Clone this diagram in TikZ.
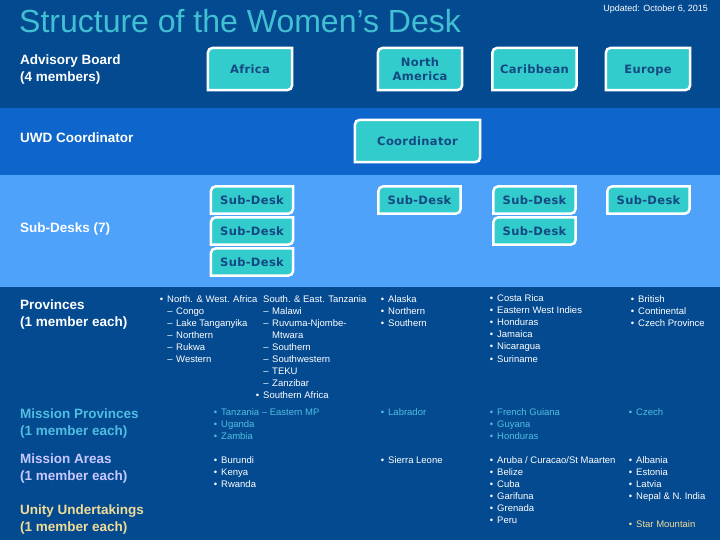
\documentclass[tikz,border=0pt]{standalone}
\usepackage{fontspec}
\setmainfont{Liberation Sans}
\newfontfamily\boxfont[LetterSpace=3]{DejaVu Sans}
\usetikzlibrary{positioning}

\definecolor{darkband}{RGB}{4,74,145}
\definecolor{midband}{RGB}{14,102,204}
\definecolor{lightband}{RGB}{78,162,250}
\definecolor{deskfill}{RGB}{51,204,204}
\definecolor{deskink}{RGB}{20,72,130}
\definecolor{titleink}{RGB}{64,192,210}
\definecolor{provink}{RGB}{80,190,225}
\definecolor{areaink}{RGB}{200,200,255}
\definecolor{unityink}{RGB}{240,220,150}

\pgfdeclarelayer{back}
\pgfsetlayers{back,main}

\newcommand{\bul}{\llap{\textbullet\hspace{4pt}}}
\newcommand{\dsh}{\llap{–\hspace{3.5pt}}}

\begin{document}
\begin{tikzpicture}[
  x=1pt, y=-1pt,
  desk/.style={minimum width=84pt, minimum height=42pt, inner sep=0pt,
               font=\boxfont\bfseries\fontsize{11.5}{14}\selectfont, text=deskink, align=center},
  subdesk/.style={desk, minimum width=82pt, minimum height=27pt},
  rowlabel/.style={anchor=west, inner sep=0pt, align=left, text=white,
                   font=\bfseries\fontsize{13.5}{17}\selectfont},
  itm/.style={anchor=base west, inner sep=0pt, text=white,
              font=\fontsize{9.5}{12}\selectfont},
  deskline/.style={fill=deskfill, draw=white, line width=2.5pt}
]
\useasboundingbox (0,0) rectangle (720,540);

% bands
\begin{pgfonlayer}{back}
  \fill[darkband] (0,0) rectangle (720,540);
  \fill[midband] (0,108) rectangle (720,175);
  \fill[lightband] (0,175) rectangle (720,287);
\end{pgfonlayer}

\node[anchor=base west, inner sep=0pt, text=titleink, font=\fontsize{32}{38}\selectfont]
  (title) at (19,33) {Structure of the Women’s Desk};
\node[anchor=east, inner sep=0pt, text=white, font=\fontsize{9}{10}\selectfont]
  (updated) at (708,9) {Updated: October 6, 2015};

% row labels
\node[rowlabel] (advlbl) at (20,69.5) {Advisory Board\\(4 members)};
\node[rowlabel] (uwdlbl) at (20,138) {UWD Coordinator};
\node[rowlabel] (sublbl) at (20,229) {Sub-Desks (7)};
\node[rowlabel] (provlbl) at (20,314.5) {Provinces\\(1 member each)};
\node[rowlabel, text=provink] (mprovlbl) at (20,423.5) {Mission Provinces\\(1 member each)};
\node[rowlabel, text=areaink] (marealbl) at (20,468.5) {Mission Areas\\(1 member each)};
\node[rowlabel, text=unityink] (unitylbl) at (20,519.5) {Unity Undertakings\\(1 member each)};

% advisory board
\node[desk] (africa) at (250,69) {Africa};
\node[desk] (namer) at (420,69) {North\\America};
\node[desk] (carib) at (534.5,69) {Caribbean};
\node[desk, text depth=0pt] (europe) at (648,69) {Europe};

% coordinator
\node[desk, minimum width=125pt] (coord) at (417.5,141) {Coordinator};

% sub-desks
\node[subdesk] (sdafA) at (252,200) {Sub-Desk};
\node[subdesk] (sdafB) at (252,231) {Sub-Desk};
\node[subdesk] (sdafC) at (252,262) {Sub-Desk};
\node[subdesk] (sdna) at (419.5,200) {Sub-Desk};
\node[subdesk] (sdcaA) at (534.5,200) {Sub-Desk};
\node[subdesk] (sdcaB) at (534.5,231) {Sub-Desk};
\node[subdesk] (sdeu) at (648.5,200) {Sub-Desk};

\begin{pgfonlayer}{back}
  \foreach \n in {africa,namer,carib,europe,coord,sdafA,sdafB,sdafC,sdna,sdcaA,sdcaB,sdeu}
    \draw[deskline] (\n.south west) -- ([yshift=-5pt]\n.north west)
      arc[start angle=180, end angle=90, radius=5pt] -- (\n.north east)
      -- ([yshift=5pt]\n.south east) arc[start angle=0, end angle=-90, radius=5pt] -- cycle;
\end{pgfonlayer}

% provinces
\node[itm] (nwafr) at (167,302.5) {\bul North. \& West. Africa};
\foreach \t [count=\i from 0] in {Congo,Lake Tanganyika,Northern,Rukwa,Western}
  \node[itm] (nwa\i) at (176,{314.5+12*\i}) {\dsh\t};
\node[itm] (setz) at (263,302.5) {South. \& East. Tanzania};
\foreach \t [count=\i from 0] in {Malawi,Ruvuma-Njombe-}
  \node[itm] (set\i) at (272,{314.5+12*\i}) {\dsh\t};
\node[itm] (mtwara) at (272,338.5) {Mtwara};
\foreach \t [count=\i from 0] in {Southern,Southwestern,TEKU,Zanzibar}
  \node[itm] (sez\i) at (272,{350.5+12*\i}) {\dsh\t};
\node[itm] (safr) at (263,398.5) {\bul Southern Africa};
\foreach \t [count=\i from 0] in {Alaska,Northern,Southern}
  \node[itm] (nap\i) at (388,{302.5+12*\i}) {\bul\t};
\foreach \t [count=\i from 0] in {Costa Rica,Eastern West Indies,Honduras,Jamaica,Nicaragua,Suriname}
  \node[itm] (cap\i) at (497,{301+12.2*\i}) {\bul\t};
\foreach \t [count=\i from 0] in {British,Continental,Czech Province}
  \node[itm] (eup\i) at (638,{302.5+12*\i}) {\bul\t};

% mission provinces
\foreach \t [count=\i from 0] in {Tanzania – Eastern MP,Uganda,Zambia}
  \node[itm, text=provink] (afmp\i) at (221,{415.5+12*\i}) {\bul\t};
\node[itm, text=provink] (namp) at (388,415.5) {\bul Labrador};
\foreach \t [count=\i from 0] in {French Guiana,Guyana,Honduras}
  \node[itm, text=provink] (camp\i) at (497,{415.5+12*\i}) {\bul\t};
\node[itm, text=provink] (eump) at (636,415.5) {\bul Czech};

% mission areas
\foreach \t [count=\i from 0] in {Burundi,Kenya,Rwanda}
  \node[itm] (afma\i) at (221,{463.5+12*\i}) {\bul\t};
\node[itm] (nama) at (388,463.5) {\bul Sierra Leone};
\foreach \t [count=\i from 0] in {Aruba / Curacao/St Maarten,Belize,Cuba,Garifuna,Grenada,Peru}
  \node[itm] (cama\i) at (497,{463.5+12*\i}) {\bul\t};
\foreach \t [count=\i from 0] in {Albania,Estonia,Latvia,Nepal \& N. India}
  \node[itm] (euma\i) at (636,{463.5+12*\i}) {\bul\t};

% unity undertakings
\node[itm, text=unityink] (euuu) at (636,527.5) {\bul Star Mountain};
\end{tikzpicture}
\end{document}
